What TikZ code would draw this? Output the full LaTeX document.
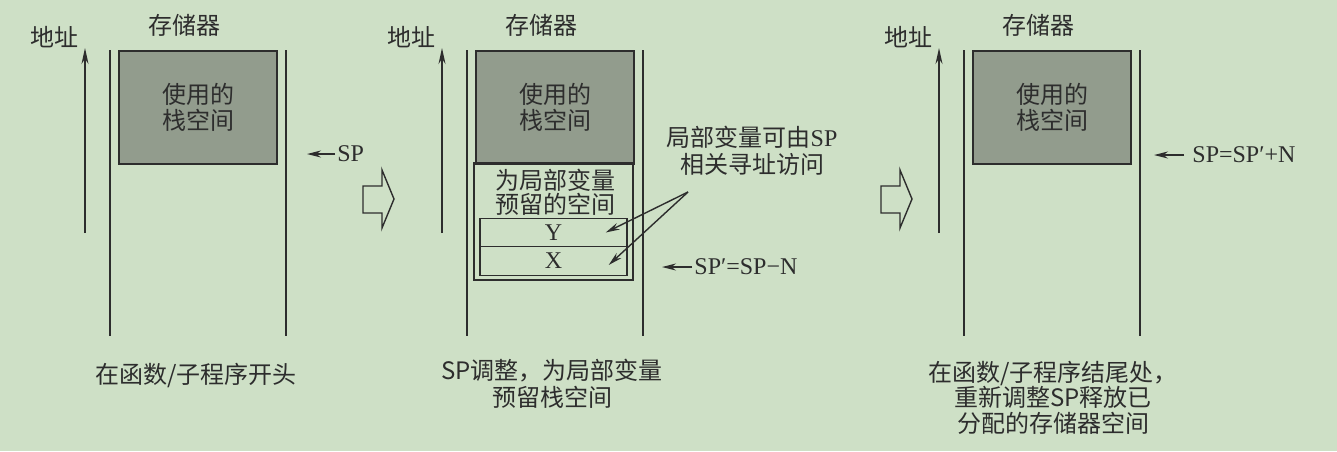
\documentclass[tikz,border=0pt]{standalone}
\usepackage{fontspec}
\setmainfont{Liberation Serif}
\newfontfamily\cjk{Noto Sans CJK SC}
\usetikzlibrary{arrows.meta}

\definecolor{bgGreen}{RGB}{206,224,198}
\definecolor{usedGray}{RGB}{146,156,141}
\definecolor{inkGray}{RGB}{45,45,45}

\begin{document}
\begin{tikzpicture}[x=0.5pt, y=-0.5pt, color=inkGray, font=\fontsize{12}{13}\selectfont,
    cjktext/.style={align=center, font=\fontsize{12}{#1}\selectfont\cjk},
    cjktext/.default=13,
    wall/.style={line width=0.8pt},
    usedbox/.style={draw, line width=0.8pt, fill=usedGray, minimum width=79pt, minimum height=56.5pt, cjktext},
    varbox/.style={draw, line width=0.7pt, minimum width=73.5pt, minimum height=14.25pt, inner sep=0pt},
    ptr/.style={-{Stealth[length=7pt,width=3.5pt]}, line width=0.7pt},
    addrarrow/.style={-{Stealth[length=8pt,width=3.5pt]}, line width=0.7pt}]

% background and size
\fill[bgGreen] (0,0) rectangle (1337,451);
\useasboundingbox (0,0) rectangle (1337,451);

% ==== Three memory columns ====
\foreach \name/\x in {A/110, B/467, C/964} {
    \draw[wall] (\x,50) -- (\x,336);
    \draw[wall] (\x+176,50) -- (\x+176,336);
    \node[cjktext] (mem\name) at (\x+74,25) {存储器};
    \node[cjktext] (addr\name) at (\x-56,37) {地址};
    \draw[addrarrow] (\x-25,233) coordinate (lo\name) -- (\x-25,48) coordinate (hi\name);
    \node[usedbox] (used\name) at (\x+88,107.5) {使用的\\栈空间};
}

% Hollow arrows between columns
\foreach \x in {363, 881}
    \draw[line width=0.7pt] (\x,186) -- (\x+19,186) -- (\x+19,170) -- (\x+31,199)
        -- (\x+19,228) -- (\x+19,213) -- (\x,213) -- cycle;

% ==== Left column ====
\node[right, inner sep=1pt] (spA) at (335,154) {SP};
\draw[ptr] (spA.west) -- ++(-28,0);
\node[cjktext] (capA) at (196,375) {在函数/子程序开头};

% ==== Middle column ====
\node[draw, line width=0.7pt, minimum width=79.5pt, minimum height=58.5pt] (resv) at (553.5,221.5) {};
\node[cjktext=10.5] (resvtxt) at (555,192) {为局部变量\\预留的空间};
\node[varbox] (Y) at (553.5,232.5) {Y};
\node[varbox] (X) at (553.5,261) {X};

\node[right, inner sep=1pt] (spB) at (692,267) {SP′=SP−N};
\draw[ptr] (spB.west) -- ++(-30,0);

% Local variables note
\node[align=center, font=\fontsize{12}{13.5}\selectfont] (note) at (752,151) {{\cjk 局部变量可由}SP\\{\cjk 相关寻址访问}};
\coordinate (fork) at (688,192);
\draw[ptr] (fork) -- ([xshift=-11pt]Y.east);
\draw[ptr] (fork) -- ([xshift=-9.5pt,yshift=-2pt]X.east);

\node[cjktext=13.5] (capB) at (552,383.5) {SP调整，为局部变量\\预留栈空间};

% ==== Right column ====
\node[right, inner sep=1pt] (spC) at (1190,155) {SP=SP′+N};
\draw[ptr] ([xshift=-3pt]spC.west) -- ++(-30,0);
\node[cjktext=12.75] (capC) at (1053,397.5) {在函数/子程序结尾处，\\重新调整SP释放已\\分配的存储器空间};

\end{tikzpicture}
\end{document}
